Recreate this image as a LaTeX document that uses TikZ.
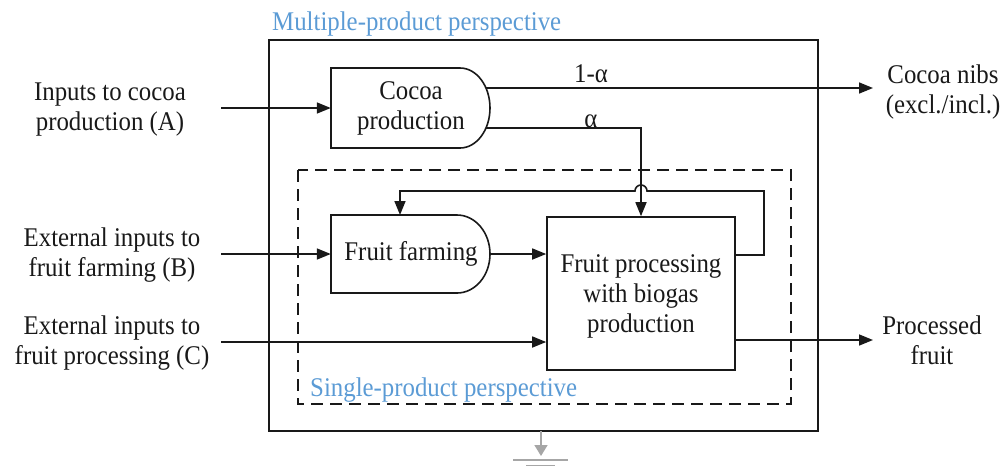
\documentclass[tikz,border=0pt]{standalone}
\usepackage{fontspec}
\setmainfont{Liberation Serif}[FakeStretch=0.92]
\usetikzlibrary{arrows.meta}
\definecolor{lblue}{HTML}{5B9BD5}
\tikzset{
  ln/.style={line width=1.6pt, draw=black!90},
  arr/.style={ln, -{Triangle[length=14pt,width=11pt]}},
  txt/.style={font=\fontsize{27}{30}\selectfont, align=center, inner sep=0pt, text=black!90},
  lbl/.style={font=\fontsize{27}{30}\selectfont, inner sep=0pt, text=lblue, anchor=base west},
  hold/.style={inner sep=0pt, draw=none}
}
\begin{document}
\begin{tikzpicture}[x=1pt,y=1pt]
\useasboundingbox (0,0) rectangle (1007,-467);
% outer box and dashed box
\draw[ln] (269,-40) rectangle (818,-431);
\node[lbl] (mlbl) at (272,-30) {Multiple-product perspective};
\draw[ln, dash pattern=on 12pt off 7pt] (298,-170) rectangle (791,-404);
\node[lbl] (slbl) at (310,-396) {Single-product perspective};
% ground symbol
\coordinate (g0) at (541,-431);
\coordinate (g1) at (541,-456);
\draw[line width=1.6pt, draw=black!35, -{Triangle[length=11pt,width=13pt]}] (g0) -- (g1);
\draw[line width=1.6pt, draw=black!35] (513,-460) -- (568,-460);
\draw[line width=1.6pt, draw=black!35] (526,-465.5) -- (555,-465.5);
% cocoa production
\node[hold, minimum width=159pt, minimum height=80pt] (cocoa) at (410.5,-108) {};
\draw[ln, fill=white] (331,-68) -- (460,-68) arc[start angle=90,end angle=-90,x radius=30,y radius=40] -- (331,-148) -- cycle;
\node[txt] (cocoaT) at (411,-108) {Cocoa\\production};
% fruit farming
\node[hold, minimum width=159pt, minimum height=78pt] (farm) at (410.5,-254) {};
\draw[ln, fill=white] (331,-215) -- (457,-215) arc[start angle=90,end angle=-90,x radius=33,y radius=39] -- (331,-293) -- cycle;
\node[txt] (farmT) at (411,-254) {Fruit farming};
% fruit processing
\node[ln, draw, minimum width=188pt, minimum height=153pt, inner sep=0pt] (proc) at (641,-293.5) {};
\node[txt] (procT) at (641,-296) {Fruit processing\\with biogas\\production};
% external texts
\node[txt] (inA) at (110,-110) {Inputs to cocoa\\production (A)};
\node[txt] (inB) at (112,-255) {External inputs to\\fruit farming (B)};
\node[txt] (inC) at (112,-343) {External inputs to\\fruit processing (C)};
\node[txt] (nibs) at (943,-92) {Cocoa nibs\\(excl./incl.)};
\node[txt] (pfruit) at (932,-340) {Processed\\fruit};
% inputs
\coordinate (a0) at (221,-108);
\draw[arr] (a0) -- (cocoa.west |- a0);
\coordinate (b0) at (221,-254);
\draw[arr] (b0) -- (farm.west |- b0);
\coordinate (c0) at (221,-342);
\draw[arr] (c0) -- (proc.west |- c0);
% cocoa outputs
\coordinate (o1) at (486,-88);
\draw[arr] (o1) -- (873,-88);
\node[txt, anchor=base] (l1) at (591,-82) {1-α};
\coordinate (o2) at (486,-128);
\draw[arr] (o2) -- (641,-128) -- (proc.north);
\node[txt, anchor=base] (l2) at (591,-127) {α};
% farm to proc
\draw[arr] (farm.east) -- (proc.west |- farm.east);
% loop
\coordinate (r0) at (735,-255);
\draw[arr] (r0) -- (764,-255) -- (764,-191) -- (647,-191) arc[start angle=0,end angle=180,radius=6] -- (400,-191) -- (400,-215);
% output processed fruit
\coordinate (p0) at (735,-340);
\draw[arr] (p0) -- (873,-340);
\end{tikzpicture}
\end{document}
